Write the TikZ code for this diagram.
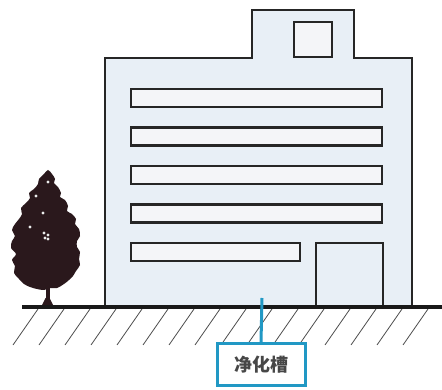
\documentclass[tikz,border=0pt]{standalone}
\usepackage{fontspec}
\newfontfamily\cjk{Noto Sans CJK SC}
\definecolor{wallfill}{HTML}{E8EFF6}
\definecolor{panefill}{HTML}{F4F5F8}
\definecolor{leaf}{HTML}{2A181C}
\definecolor{tagblue}{HTML}{2198C4}
\begin{document}
\begin{tikzpicture}[x=1pt,y=-1pt,
  outline/.style={draw=black!85,line width=2.6pt,line join=miter},
  wall/.style={outline,fill=wallfill},
  pane/.style={outline,fill=panefill},
  hatch/.style={draw=black!70,line width=0.8pt},
  ground/.style={draw=black!90,line width=3.8pt},
  tag/.style={draw=tagblue,line width=3pt,fill=white,
    minimum width=88pt,minimum height=42pt,inner sep=0pt,
    font=\cjk\bfseries\fontsize{18}{20}\selectfont,text=black!72},
  lead/.style={draw=tagblue,line width=3pt}]
\useasboundingbox (0,0) rectangle (442,390);
% ground hatching
\foreach \x in {13,39,...,405}
  \draw[hatch] (\x,345) -- ++(25,-36);
% building body with the roof tower
\draw[wall] (105,307) -- (105,58) -- (252,58) -- (252,10) -- (354,10)
  -- (354,58) -- (412,58) -- (412,307);
\draw[pane] (294,22) rectangle (332,57);
% window strips
\foreach \y in {89,127.5,166,204.5}
  \draw[pane] (131,\y) rectangle (382,\y+18);
\draw[pane] (131,243) rectangle (300,261);
% entrance
\draw[wall] (316,307) -- (316,243) -- (383,243) -- (383,307);
% tree crown with a bumpy edge
\fill[leaf] plot[smooth cycle,tension=0.55] coordinates{
  (48,170) (52,174) (55,179) (54,183) (58,187) (61,193) (60,197) (65,200)
  (68,206) (67,211) (72,214) (76,219) (75,224) (79,229) (80,236) (77,241)
  (77,247) (80,252) (79,259) (80,265) (76,271) (73,276) (69,280) (64,284)
  (57,288) (50,288) (44,290) (37,289) (30,287) (24,284) (19,279) (14,273)
  (15,266) (12,260) (16,254) (11,248) (12,241) (15,236) (12,230) (15,224)
  (19,219) (22,214) (21,208) (26,203) (30,198) (29,193) (34,189) (38,184)
  (39,179) (44,174)};
\fill[leaf] (45.5,284) rectangle (49.5,307);
\fill[leaf] (41,307) -- (45.5,298) -- (49.5,298) -- (54,307) -- cycle;
\foreach \p in {(48,182),(43,213),(44,233),(48,235),(45,238),(48,239),(30,227),(36,196)}
  \fill[white!85!gray] \p circle (1.7);
% ground line
\draw[ground] (22,307) -- (442,307);
% septic tank label
\coordinate (tank) at (262,298);
\node[tag] (label) at (261,364.5) {净化槽};
\draw[lead] (tank) -- (label.north);
\end{tikzpicture}
\end{document}
